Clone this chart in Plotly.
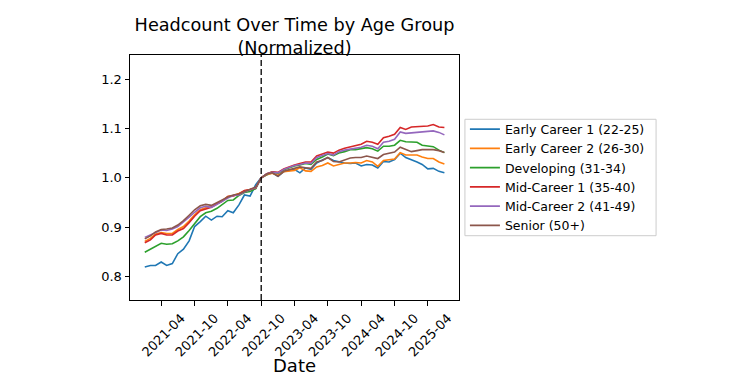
import plotly.graph_objects as go
import pandas as pd

dates = pd.date_range("2021-01-01", "2025-07-01", freq="MS")

early_career_1 = [0.819, 0.822, 0.822, 0.829, 0.822, 0.826, 0.846, 0.855, 0.872, 0.901, 0.911, 0.922, 0.914, 0.922, 0.921, 0.933, 0.929, 0.945, 0.965, 0.963, 0.986, 1.000,
                  1.006, 1.010, 1.003, 1.012, 1.015, 1.017, 1.010, 1.020, 1.017,
                  1.030, 1.036, 1.041, 1.035, 1.032, 1.030, 1.029, 1.030, 1.024, 1.027,
                  1.026, 1.020, 1.033, 1.032, 1.037, 1.050, 1.041, 1.037, 1.032, 1.027,
                  1.018, 1.019, 1.013, 1.010]
early_career_2 = [0.871, 0.877, 0.886, 0.889, 0.887, 0.887, 0.895, 0.901, 0.912, 0.925, 0.935, 0.939, 0.941, 0.948, 0.953, 0.962, 0.964, 0.968, 0.973, 0.976, 0.979, 1.000,
                  1.006, 1.009, 1.005, 1.012, 1.014, 1.015, 1.020, 1.014, 1.013,
                  1.022, 1.025, 1.030, 1.024, 1.027, 1.030, 1.030, 1.031, 1.030, 1.035,
                  1.032, 1.023, 1.035, 1.036, 1.038, 1.051, 1.046, 1.046, 1.046, 1.042,
                  1.039, 1.039, 1.032, 1.028]
developing = [0.849, 0.855, 0.861, 0.867, 0.865, 0.866, 0.872, 0.880, 0.893, 0.907, 0.921, 0.929, 0.932, 0.938, 0.945, 0.954, 0.955, 0.964, 0.970, 0.972, 0.978, 1.000,
              1.007, 1.012, 1.009, 1.016, 1.020, 1.024, 1.026, 1.029, 1.027,
              1.037, 1.042, 1.048, 1.045, 1.050, 1.053, 1.057, 1.057, 1.059, 1.061,
              1.059, 1.054, 1.064, 1.064, 1.066, 1.076, 1.073, 1.072, 1.072, 1.066,
              1.065, 1.063, 1.056, 1.051]
mid_career_1 = [0.868, 0.874, 0.884, 0.887, 0.884, 0.884, 0.892, 0.897, 0.909, 0.922, 0.933, 0.937, 0.940, 0.947, 0.952, 0.962, 0.963, 0.967, 0.974, 0.976, 0.979, 1.000,
                1.008, 1.012, 1.011, 1.018, 1.022, 1.026, 1.029, 1.032, 1.032,
                1.044, 1.048, 1.052, 1.050, 1.056, 1.060, 1.063, 1.066, 1.068, 1.074,
                1.072, 1.068, 1.081, 1.084, 1.088, 1.102, 1.098, 1.103, 1.104, 1.104,
                1.105, 1.108, 1.103, 1.102]
mid_career_2 = [0.879, 0.884, 0.889, 0.894, 0.893, 0.896, 0.901, 0.910, 0.920, 0.930, 0.939, 0.942, 0.940, 0.946, 0.953, 0.959, 0.964, 0.965, 0.971, 0.976, 0.980, 1.000,
                1.008, 1.011, 1.010, 1.017, 1.021, 1.025, 1.027, 1.030, 1.029,
                1.041, 1.045, 1.049, 1.046, 1.053, 1.056, 1.058, 1.060, 1.062, 1.066,
                1.064, 1.059, 1.072, 1.074, 1.078, 1.093, 1.090, 1.091, 1.092, 1.093,
                1.094, 1.095, 1.092, 1.087]
senior = [0.876, 0.882, 0.890, 0.895, 0.896, 0.898, 0.904, 0.913, 0.924, 0.935, 0.943, 0.946, 0.944, 0.949, 0.955, 0.961, 0.965, 0.967, 0.972, 0.977, 0.981, 1.000,
          1.008, 1.010, 1.003, 1.013, 1.016, 1.019, 1.022, 1.020, 1.019,
          1.032, 1.035, 1.041, 1.033, 1.032, 1.036, 1.040, 1.041, 1.041, 1.044,
          1.042, 1.039, 1.047, 1.050, 1.052, 1.062, 1.058, 1.053, 1.055, 1.057,
          1.057, 1.057, 1.055, 1.051]

series_names = ["Early Career 1 (22-25)", "Early Career 2 (26-30)", "Developing (31-34)",
                "Mid-Career 1 (35-40)", "Mid-Career 2 (41-49)", "Senior (50+)"]
series_values = [early_career_1, early_career_2, developing, mid_career_1, mid_career_2, senior]
colors = ["#1f77b4", "#ff7f0e", "#2ca02c", "#d62728", "#9467bd", "#8c564b"]

x_tick_vals = ["2021-04-01", "2021-10-01", "2022-04-01", "2022-10-01", "2023-04-01",
               "2023-10-01", "2024-04-01", "2024-10-01", "2025-04-01"]
x_tick_labels = ["2021-04", "2021-10", "2022-04", "2022-10", "2023-04",
                 "2023-10", "2024-04", "2024-10", "2025-04"]
y_tick_vals = [0.8, 0.9, 1.0, 1.1, 1.2]
baseline_date = "2022-10-01"

FONT = "DejaVu Sans"
W, H = 724, 374  # page body adds an 8px offset at top-left

fig = go.Figure()
for name, vals, col in zip(series_names, series_values, colors):
    fig.add_trace(go.Scatter(x=dates, y=vals, mode="lines", name=name,
                             line=dict(color=col, width=1.6)))

fig.add_shape(type="line", xref="x", yref="paper", x0=baseline_date, x1=baseline_date,
              y0=0, y1=1, line=dict(color="black", width=1.3, dash="6px,3px"))

# legend frame (matplotlib-style, tight padding)
fig.add_shape(type="rect", xref="paper", yref="paper", x0=1.018, x1=1.599,
              y0=0.2624, y1=0.7376, line=dict(color="#cccccc", width=1),
              fillcolor="white", layer="below")

axis_common = dict(showline=True, linecolor="black", linewidth=1, mirror=True,
                   ticks="outside", ticklen=4.5, tickwidth=1, tickcolor="black",
                   showgrid=False, zeroline=False, automargin=False,
                   tickfont=dict(family=FONT, size=13, color="black"))

fig.update_xaxes(range=["2020-10-12", "2025-09-19"], tickvals=x_tick_vals,
                 ticktext=x_tick_labels, tickangle=-45, ticklabelshift=20,
                 **axis_common)
fig.update_yaxes(range=[0.752, 1.249], tickvals=y_tick_vals, tickformat=".1f",
                 **axis_common)

fig.add_annotation(text="Date", xref="paper", yref="paper", x=0.5, y=-0.266,
                   xanchor="center", yanchor="middle", showarrow=False,
                   font=dict(family=FONT, size=18, color="black"))

fig.update_layout(
    width=W, height=H,
    margin=dict(l=122, r=273, t=47, b=82, autoexpand=False),
    paper_bgcolor="white", plot_bgcolor="rgba(0,0,0,0)",
    font=dict(family=FONT, color="black"),
    title=dict(text="Headcount Over Time by Age Group<br>(Normalized)",
               font=dict(family=FONT, size=17.7, color="black"),
               x=0.5, xref="paper", xanchor="center",
               y=1 - 23 / H, yref="container", yanchor="middle"),
    legend=dict(x=1.018, xanchor="left", y=0.5, yanchor="middle",
                borderwidth=0, bgcolor="rgba(0,0,0,0)",
                font=dict(family=FONT, size=12.5, color="black"),
                itemwidth=30),
    showlegend=True,
)

fig.write_html("out.html")
